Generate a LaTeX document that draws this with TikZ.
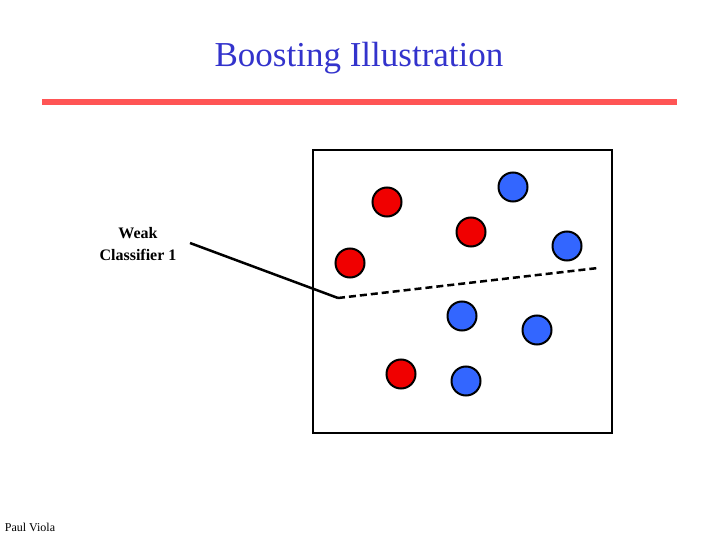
\documentclass[tikz,border=0pt]{standalone}
\usepackage{fontspec}
\setmainfont{Liberation Serif}
\usetikzlibrary{positioning}
\definecolor{titleblue}{RGB}{51,51,204}
\definecolor{barred}{RGB}{255,85,85}
\definecolor{ptred}{RGB}{240,0,0}
\definecolor{ptblue}{RGB}{51,102,255}

\begin{document}
\begin{tikzpicture}[x=1pt, y=-1pt,
    redpt/.style = {circle, draw=black, line width=2pt, fill=ptred,
                    minimum size=29pt, inner sep=0pt},
    bluept/.style = {circle, draw=black, line width=2pt, fill=ptblue,
                     minimum size=29pt, inner sep=0pt}
]
    \useasboundingbox (0,0) rectangle (720,540);

    \node[text=titleblue, font=\fontsize{35}{40}\selectfont] (title) at (359,58) {Boosting Illustration};
    \draw[barred, line width=6pt] (42,102) -- (677,102);

    \draw[line width=2.5pt] (313,150) rectangle (612,433);

    \node[redpt] (r1) at (387,202) {};
    \node[redpt] (r2) at (471,232) {};
    \node[redpt] (r3) at (350,263) {};
    \node[redpt] (r4) at (401,374) {};
    \node[bluept] (b1) at (513,187) {};
    \node[bluept] (b2) at (567,246) {};
    \node[bluept] (b3) at (462,316) {};
    \node[bluept] (b4) at (537,330) {};
    \node[bluept] (b5) at (466,381) {};

    \coordinate (hleft) at (338,298);
    \coordinate (hright) at (598,268);
    \coordinate (pointer) at (190,243);
    \draw[line width=2.5pt, dash pattern=on 7pt off 4pt] (hleft) -- (hright);
    \draw[line width=2.5pt] (pointer) -- (hleft);

    \node[align=center, font=\bfseries\fontsize{16}{22}\selectfont] (weak) at (138,244) {Weak\\Classifier 1};
    \node[font=\fontsize{12}{14}\selectfont] (author) at (30,527) {Paul Viola};
\end{tikzpicture}
\end{document}
